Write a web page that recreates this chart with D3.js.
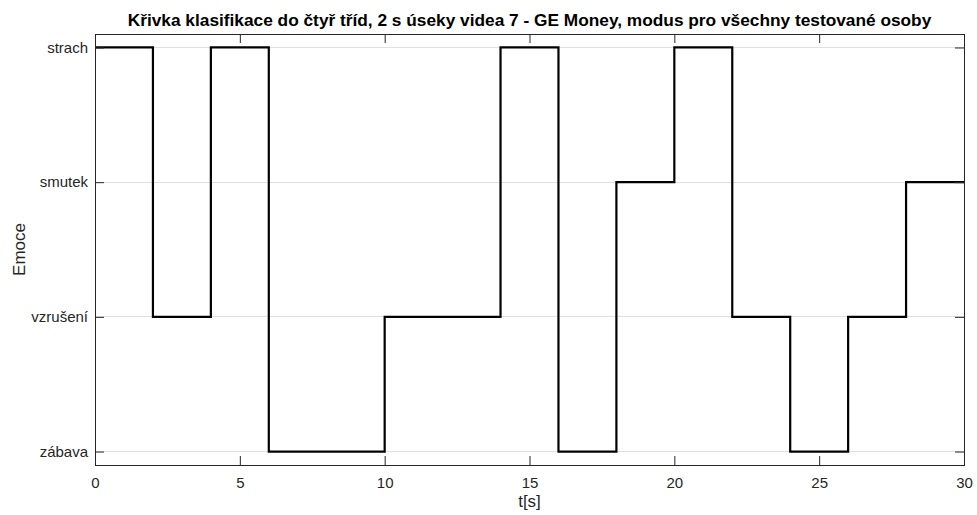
<!DOCTYPE html>
<html><head><meta charset="utf-8">
<script src="https://cdn.jsdelivr.net/npm/d3@7"></script>
<style>body{margin:0;background:#fff}svg{display:block}text{font-family:"Liberation Sans",Arial,sans-serif}</style>
</head><body>
<svg id="c" width="977" height="515"></svg>
<script>
const title = "Křivka klasifikace do čtyř tříd, 2 s úseky videa 7 - GE Money, modus pro všechny testované osoby";
const categories = ["zábava","vzrušení","smutek","strach"];
const times = [0,2,4,6,8,10,12,14,16,18,20,22,24,26,28,30];
const emotions = ["strach","vzrušení","strach","zábava","zábava","vzrušení","vzrušení","strach","zábava","smutek","strach","vzrušení","zábava","vzrušení","smutek","smutek"];
const xTicks = [0,5,10,15,20,25,30];
const xLabel = "t[s]", yLabel = "Emoce";

const svg = d3.select("#c");
const L=95, R=964, T=34, B=465;
const x = d3.scaleLinear().domain([0,30]).range([L,R]);
const y = d3.scaleLinear().domain([0.9,4.1]).range([B,T]);
const yv = c => categories.indexOf(c)+1;
const tc = "#262626", ac="#262626";

// grid
svg.append("g").selectAll("line").data(categories).join("line")
  .attr("x1",L).attr("x2",R).attr("y1",d=>y(yv(d))).attr("y2",d=>y(yv(d)))
  .attr("stroke","#e0e0e0").attr("stroke-width",1).attr("shape-rendering","crispEdges");

// line
const data = times.map((t,i)=>({t, v:yv(emotions[i])}));
svg.append("path").datum(data)
  .attr("d", d3.line().x(d=>x(d.t)).y(d=>y(d.v)).curve(d3.curveStepAfter))
  .attr("fill","none").attr("stroke","#000").attr("stroke-width",2.2);

// axes
const tl = 9;
const xb = svg.append("g").attr("transform",`translate(0,${B})`).call(d3.axisBottom(x).tickValues(xTicks).tickSize(-tl).tickPadding(12).tickFormat(d3.format("d")));
const xt = svg.append("g").attr("transform",`translate(0,${T})`).call(d3.axisTop(x).tickValues(xTicks).tickSize(-tl).tickFormat(""));
const yl = svg.append("g").attr("transform",`translate(${L},0)`).call(d3.axisLeft(y).tickValues(categories.map(yv)).tickSize(-tl).tickPadding(7).tickFormat(v=>categories[v-1]));
const yr = svg.append("g").attr("transform",`translate(${R},0)`).call(d3.axisRight(y).tickValues(categories.map(yv)).tickSize(-tl).tickFormat(""));
[xb,xt,yl,yr].forEach(g=>{
  g.selectAll(".tick line").attr("stroke",ac).attr("stroke-width",1);
  g.selectAll("text").attr("fill",tc).style("font-size","15px").style("font-family","'Liberation Sans',Arial,sans-serif");
  g.select(".domain").remove();
});
svg.append("rect").attr("x",L+0.5).attr("y",T+0.5).attr("width",R-L).attr("height",B-T)
  .attr("fill","none").attr("stroke",ac).attr("stroke-width",1);

svg.append("text").attr("x",(L+R)/2+0).attr("y",26).attr("text-anchor","middle")
  .style("font-size","17.3px").style("font-weight","bold").attr("fill","#000").text(title);
svg.append("text").attr("x",(L+R)/2).attr("y",507).attr("text-anchor","middle")
  .style("font-size","17px").attr("fill",tc).text(xLabel);
svg.append("text").attr("transform",`translate(25,${(T+B)/2}) rotate(-90)`).attr("text-anchor","middle")
  .style("font-size","17px").attr("fill",tc).text(yLabel);
</script>
</body></html>
